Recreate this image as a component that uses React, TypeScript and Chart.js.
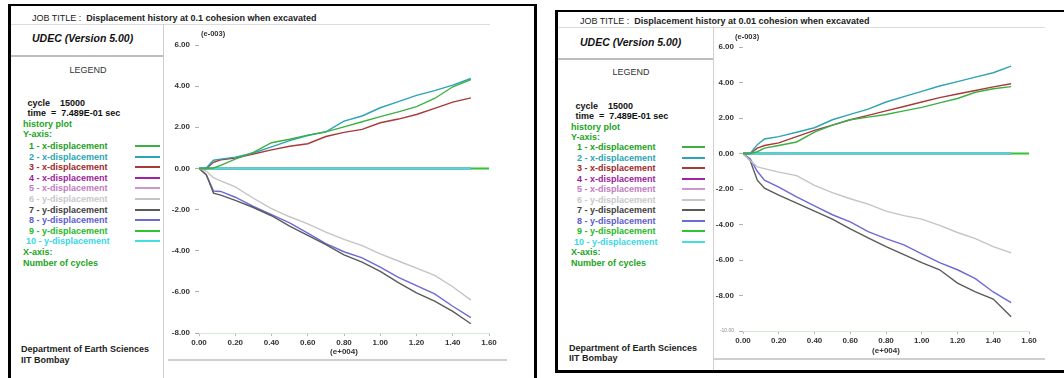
import React, { useEffect, useRef } from "react";
import { Chart, registerables } from "chart.js";
Chart.register(...registerables);

const FONT = '"Liberation Sans", Arial, Helvetica, sans-serif';

// x values in units of 1e4 cycles
const CYCLES = [0, 0.04, 0.08, 0.12, 0.2, 0.3, 0.4, 0.5, 0.6, 0.7, 0.8, 0.9, 1.0, 1.1, 1.2, 1.3, 1.4, 1.5, 1.6];
const X_TICKS = [0, 0.2, 0.4, 0.6, 0.8, 1.0, 1.2, 1.4, 1.6];

const SERIES_NAMES = [
  "1 - x-displacement",
  "2 - x-displacement",
  "3 - x-displacement",
  "4 - x-displacement",
  "5 - x-displacement",
  "6 - y-displacement",
  "7 - y-displacement",
  "8 - y-displacement",
  "9 - y-displacement",
  "10 - y-displacement",
];
const LINE_COLORS = ["#3cb043", "#2fa3b3", "#a83a3a", "#a322a3", "#c99ac9", "#c4c4c4", "#5a5a5a", "#6b6bd6", "#33c233", "#44dede"];
const TEXT_COLORS = ["#23a023", "#2aa5b5", "#a02828", "#9a1c9a", "#c07cc0", "#c8c8c8", "#404040", "#5c5cd0", "#28b828", "#38d8e6"];
const HEADER_GREEN = "#22a322";

// Panel A: 0.1 cohesion (values in 1e-3)
const A_S1 = [0, 0, 0.02, 0.15, 0.45, 0.78, 1.25, 1.42, 1.62, 1.78, 2.02, 2.27, 2.52, 2.75, 3.0, 3.4, 3.97, 4.32];
const A_S2 = [0, 0.02, 0.4, 0.45, 0.55, 0.75, 1.05, 1.35, 1.6, 1.78, 2.3, 2.55, 2.95, 3.25, 3.55, 3.78, 4.05, 4.37];
const A_S3 = [0, 0, 0.3, 0.42, 0.5, 0.7, 0.9, 1.08, 1.2, 1.55, 1.75, 1.9, 2.22, 2.4, 2.62, 2.92, 3.22, 3.43];
const A_S4 = [0, 0, 0, 0, 0, 0, 0, 0, 0, 0, 0, 0, 0, 0, 0, 0, 0, 0];
const A_S5 = [0, 0, 0, 0, 0, 0, 0, 0, 0, 0, 0, 0, 0, 0, 0, 0, 0, 0];
const A_S6 = [0, -0.13, -0.45, -0.6, -0.9, -1.45, -1.95, -2.35, -2.7, -3.1, -3.45, -3.75, -4.15, -4.5, -4.85, -5.2, -5.75, -6.4];
const A_S7 = [0, -0.3, -1.2, -1.3, -1.55, -1.9, -2.3, -2.8, -3.25, -3.7, -4.2, -4.55, -5.0, -5.55, -6.05, -6.45, -6.95, -7.55];
const A_S8 = [0, -0.3, -1.1, -1.12, -1.4, -1.85, -2.25, -2.65, -3.15, -3.65, -4.05, -4.35, -4.8, -5.3, -5.7, -6.1, -6.7, -7.25];
const A_S9 = [0, 0, 0, 0, 0, 0, 0, 0, 0, 0, 0, 0, 0, 0, 0, 0, 0, 0, 0];
const A_S10 = [0, 0, 0, 0, 0, 0, 0, 0, 0, 0, 0, 0, 0, 0, 0, 0, 0, 0];

// Panel B: 0.01 cohesion (values in 1e-3)
const B_S1 = [0, 0, 0.1, 0.3, 0.45, 0.65, 1.2, 1.6, 1.9, 2.05, 2.2, 2.4, 2.6, 2.85, 3.1, 3.45, 3.65, 3.77];
const B_S2 = [0, 0, 0.5, 0.82, 0.95, 1.2, 1.45, 1.9, 2.2, 2.5, 2.9, 3.2, 3.5, 3.8, 4.05, 4.3, 4.55, 4.92];
const B_S3 = [0, 0, 0.3, 0.45, 0.6, 0.95, 1.3, 1.6, 1.9, 2.15, 2.4, 2.65, 2.9, 3.15, 3.35, 3.55, 3.75, 3.93];
const B_S4 = [0, 0, 0, 0, 0, 0, 0, 0, 0, 0, 0, 0, 0, 0, 0, 0, 0, 0];
const B_S5 = [0, 0, 0, 0, 0, 0, 0, 0, 0, 0, 0, 0, 0, 0, 0, 0, 0, 0];
const B_S6 = [0, -0.4, -0.75, -0.85, -1.05, -1.25, -1.8, -2.2, -2.55, -2.85, -3.25, -3.5, -3.7, -4.05, -4.45, -4.8, -5.25, -5.6];
const B_S7 = [0, -0.4, -1.5, -1.95, -2.35, -2.8, -3.25, -3.7, -4.25, -4.75, -5.25, -5.7, -6.15, -6.55, -7.3, -7.8, -8.2, -9.2];
const B_S8 = [0, -0.3, -1.0, -1.5, -1.9, -2.45, -2.95, -3.45, -3.85, -4.4, -4.8, -5.15, -5.65, -6.15, -6.55, -7.05, -7.8, -8.4];
const B_S9 = [0, 0, 0, 0, 0, 0, 0, 0, 0, 0, 0, 0, 0, 0, 0, 0, 0, 0, 0];
const B_S10 = [0, 0, 0, 0, 0, 0, 0, 0, 0, 0, 0, 0, 0, 0, 0, 0, 0, 0];

const A_SERIES = [A_S1, A_S2, A_S3, A_S4, A_S5, A_S6, A_S7, A_S8, A_S9, A_S10];
const B_SERIES = [B_S1, B_S2, B_S3, B_S4, B_S5, B_S6, B_S7, B_S8, B_S9, B_S10];

const A_TITLE = "Displacement history at 0.1 cohesion when excavated";
const B_TITLE = "Displacement history at 0.01 cohesion when excavated";
const A_YRANGE = [-8, 6];
const B_YRANGE = [-10, 6];

type Geo = {
  frame: React.CSSProperties;
  titleY: number; titleX: number;
  titleLine: [number, number, number];
  vLine: [number, number, number];
  udecY: number; udecX: number;
  udecLine: [number, number, number];
  legendX: number; legendY: number;
  infoX: number; infoY: number[];
  entryX: number; entryY0: number; entryStep: number;
  sampleX: [number, number];
  deptX: number; deptY: number[];
  canvas: { left: number; top: number; width: number; height: number };
  yWidth: number; xHeight: number; padTop: number; padRight: number;
  bottomLine: [number, number, number];
  expX: number; expY: number;
};

const GEO_A: Geo = {
  frame: { left: 8, top: 4, width: 529, height: 420, borderLeft: "3px solid #000", borderRight: "3px solid #000", borderTop: "2px solid #000" },
  titleY: 18, titleX: 32,
  titleLine: [11, 490, 24],
  vLine: [163, 24, 378],
  udecY: 38, udecX: 32,
  udecLine: [11, 163, 55],
  legendX: 88, legendY: 70,
  infoX: 25, infoY: [103, 113, 124, 134],
  entryX: 29, entryY0: 146, entryStep: 10.6,
  sampleX: [135, 160],
  deptX: 21, deptY: [349, 360],
  canvas: { left: 168, top: 28, width: 340, height: 331 },
  yWidth: 31, xHeight: 26, padTop: 17, padRight: 19,
  bottomLine: [168, 507, 359],
  expX: 201, expY: 34,
};

const GEO_B: Geo = {
  frame: { left: 555, top: 10, width: 520, height: 363, borderLeft: "3px solid #000", borderTop: "2px solid #000", borderBottom: "3px solid #000" },
  titleY: 21, titleX: 580,
  titleLine: [558, 1045, 27],
  vLine: [713, 27, 370],
  udecY: 42, udecX: 580,
  udecLine: [558, 713, 58],
  legendX: 631, legendY: 72,
  infoX: 573, infoY: [106, 116, 127, 137],
  entryX: 577, entryY0: 147, entryStep: 10.5,
  sampleX: [682, 705],
  deptX: 569, deptY: [348, 358],
  canvas: { left: 713, top: 30, width: 336, height: 328 },
  yWidth: 30, xHeight: 27, padTop: 17, padRight: 20,
  bottomLine: [713, 1045, 358],
  expX: 735, expY: 37,
};

function abs(x: number, yCenter: number, extra: React.CSSProperties = {}): React.CSSProperties {
  return { position: "absolute", left: x, top: yCenter - 6, height: 12, lineHeight: "12px", whiteSpace: "nowrap", fontFamily: FONT, ...extra };
}

function HLine({ x1, x2, y, color = "#d4d4d4", w = 1 }: { x1: number; x2: number; y: number; color?: string; w?: number }) {
  return <div style={{ position: "absolute", left: x1, top: y, width: x2 - x1, height: w, background: color }} />;
}
function VLine({ x, y1, y2, color = "#d4d4d4", w = 1 }: { x: number; y1: number; y2: number; color?: string; w?: number }) {
  return <div style={{ position: "absolute", left: x, top: y1, width: w, height: y2 - y1, background: color }} />;
}

function Plot({ geo, series, yRange }: { geo: Geo; series: number[][]; yRange: number[] }) {
  const ref = useRef<HTMLCanvasElement | null>(null);
  useEffect(() => {
    if (!ref.current) return;
    const datasets = series.map((vals, i) => ({
      label: SERIES_NAMES[i],
      data: vals.map((y, j) => ({ x: CYCLES[j], y })),
      borderColor: LINE_COLORS[i],
      backgroundColor: LINE_COLORS[i],
      borderWidth: i === 9 || i === 8 ? 2 : 1.4,
      pointRadius: 0,
      tension: 0,
      fill: false,
      order: i === 9 ? 8 : i === 3 || i === 4 || i === 8 ? 9 : 0,
    }));
    const chart = new Chart(ref.current, {
      type: "line",
      data: { datasets },
      options: {
        animation: false,
        responsive: false,
        devicePixelRatio: 1,
        layout: { padding: { top: geo.padTop, right: geo.padRight, left: 0, bottom: 0 } },
        plugins: { legend: { display: false }, tooltip: { enabled: false } },
        scales: {
          x: {
            type: "linear",
            min: 0,
            max: 1.6,
            afterBuildTicks: (s: any) => { s.ticks = X_TICKS.map((v) => ({ value: v })); },
            afterFit: (s: any) => { s.height = geo.xHeight; },
            ticks: {
              autoSkip: false,
              maxRotation: 0,
              padding: 2,
              color: "#333",
              font: { family: FONT, size: 8, weight: "bold" },
              callback: (v: any) => Number(v).toFixed(2),
            },
            grid: { drawOnChartArea: false, drawTicks: true, tickLength: 3, color: "#b8b8b8" },
            border: { display: true, color: "#d3ead3", width: 1 },
            title: { display: true, text: "(e+004)", color: "#333", font: { family: FONT, size: 8, weight: "bold" }, padding: { top: 0, bottom: 2 } },
          },
          y: {
            type: "linear",
            min: yRange[0],
            max: yRange[1],
            ticks: {
              stepSize: 2,
              padding: 5,
              color: (c: any) => (c.tick && c.tick.value === -10 ? "#8a8a8a" : "#333"),
              font: (c: any) => (c.tick && c.tick.value === -10 ? { family: FONT, size: 5 } : { family: FONT, size: 8, weight: "bold" }),
              callback: (v: any) => Number(v).toFixed(2),
            },
            afterFit: (s: any) => { s.width = geo.yWidth; },
            grid: { drawOnChartArea: false, drawTicks: true, tickLength: 4, color: "#b0b0b0" },
            border: { display: false },
          },
        },
      } as any,
    });
    return () => chart.destroy();
  }, []);
  const c = geo.canvas;
  return (
    <div style={{ position: "absolute", left: c.left, top: c.top, width: c.width, height: c.height }}>
      <canvas ref={ref} width={c.width} height={c.height} style={{ width: c.width, height: c.height, display: "block" }} />
    </div>
  );
}

function Panel({ geo, title, series, yRange }: { geo: Geo; title: string; series: number[][]; yRange: number[] }) {
  const infoStyle = { fontSize: 9, fontWeight: 700 as const };
  return (
    <>
      <div style={{ position: "absolute", boxSizing: "border-box", background: "#fff", ...geo.frame }} />
      <HLine x1={geo.titleLine[0]} x2={geo.titleLine[1]} y={geo.titleLine[2]} color="#dcdcdc" />
      <VLine x={geo.vLine[0]} y1={geo.vLine[1]} y2={geo.vLine[2]} color="#d0d0d0" />
      <HLine x1={geo.udecLine[0]} x2={geo.udecLine[1]} y={geo.udecLine[2]} color="#bdbdbd" w={2} />
      <HLine x1={geo.bottomLine[0]} x2={geo.bottomLine[1]} y={geo.bottomLine[2]} color="#cfcfcf" w={2} />
      <div style={abs(geo.titleX, geo.titleY, { fontSize: 9, color: "#222" })}>
        JOB TITLE :&nbsp; <span style={{ fontWeight: 700 }}>{title}</span>
      </div>
      <div style={abs(geo.udecX, geo.udecY, { fontSize: 10.5, fontWeight: 700, fontStyle: "italic", color: "#111" })}>UDEC (Version 5.00)</div>
      <div style={abs(geo.legendX - 30, geo.legendY, { width: 60, textAlign: "center", fontSize: 9, color: "#333" })}>LEGEND</div>
      <div style={abs(geo.infoX, geo.infoY[0], { ...infoStyle, color: "#111" })}>&nbsp;cycle&nbsp;&nbsp;&nbsp; 15000</div>
      <div style={abs(geo.infoX, geo.infoY[1], { ...infoStyle, color: "#111" })}>&nbsp;time&nbsp; =&nbsp; 7.489E-01 sec</div>
      <div style={abs(geo.infoX - 2, geo.infoY[2], { ...infoStyle, color: HEADER_GREEN })}>history plot</div>
      <div style={abs(geo.infoX - 2, geo.infoY[3], { ...infoStyle, color: HEADER_GREEN })}>Y-axis:</div>
      {SERIES_NAMES.map((name, i) => {
        const y = geo.entryY0 + i * geo.entryStep;
        return (
          <React.Fragment key={name}>
            <div style={abs(geo.entryX - (i === 9 ? 3 : 0), y, { ...infoStyle, color: TEXT_COLORS[i] })}>{name}</div>
            <HLine x1={geo.sampleX[0]} x2={geo.sampleX[1]} y={Math.round(y - 1)} color={LINE_COLORS[i]} w={2} />
          </React.Fragment>
        );
      })}
      <div style={abs(geo.infoX - 2, geo.entryY0 + 10 * geo.entryStep, { ...infoStyle, color: HEADER_GREEN })}>X-axis:</div>
      <div style={abs(geo.infoX - 2, geo.entryY0 + 11 * geo.entryStep, { ...infoStyle, color: HEADER_GREEN })}>Number of cycles</div>
      <div style={abs(geo.deptX, geo.deptY[0], { ...infoStyle, color: "#222" })}>Department of Earth Sciences</div>
      <div style={abs(geo.deptX, geo.deptY[1], { ...infoStyle, color: "#222" })}>IIT Bombay</div>
      <Plot geo={geo} series={series} yRange={yRange} />
      <div style={abs(geo.expX, geo.expY, { fontSize: 7.5, fontWeight: 700, color: "#333" })}>(e-003)</div>
    </>
  );
}

export default function App() {
  return (
    <div style={{ position: "fixed", left: 0, top: 0, width: 1064, height: 378, overflow: "hidden", background: "#fff" }}>
      <Panel geo={GEO_A} title={A_TITLE} series={A_SERIES} yRange={A_YRANGE} />
      <Panel geo={GEO_B} title={B_TITLE} series={B_SERIES} yRange={B_YRANGE} />
    </div>
  );
}
